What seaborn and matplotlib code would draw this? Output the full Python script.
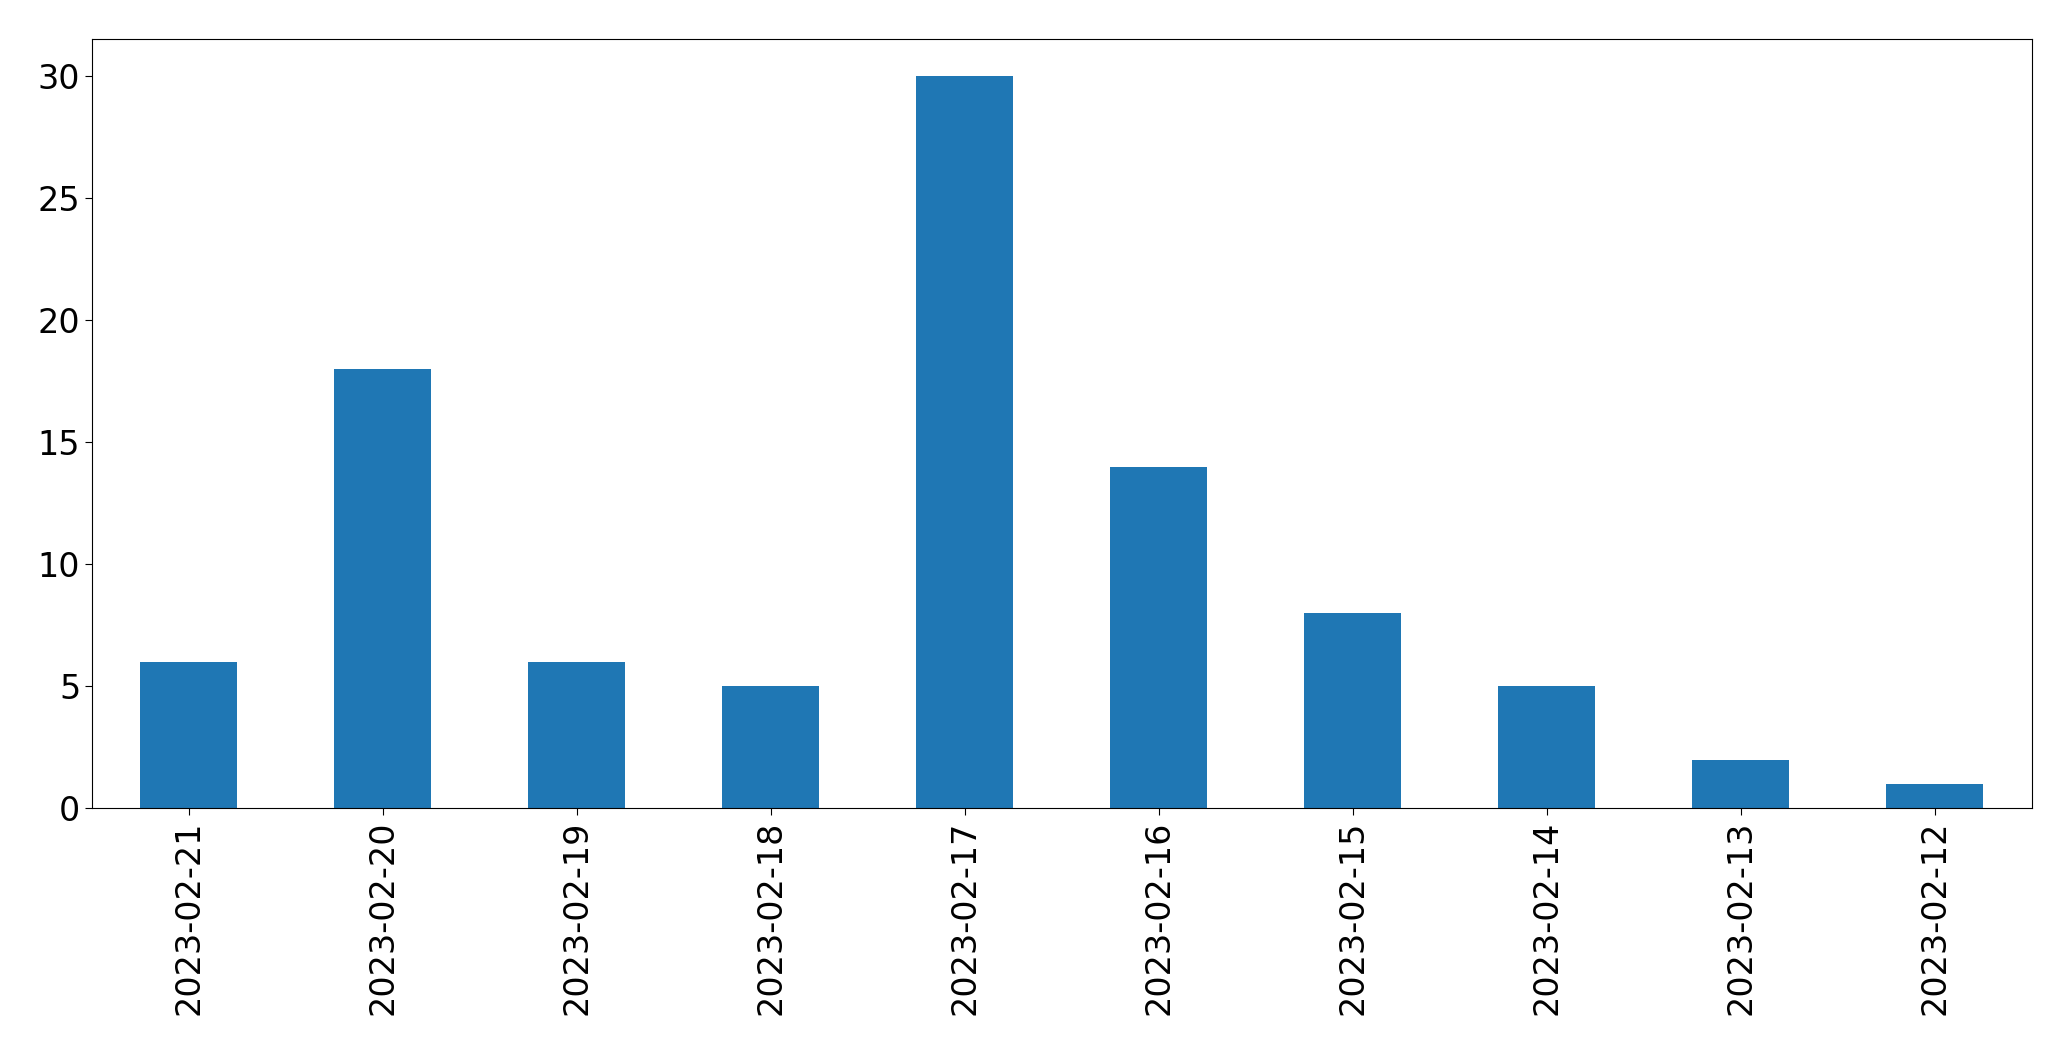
import pandas as pd
import matplotlib
matplotlib.use("Agg")
import matplotlib.pyplot as plt
import seaborn as sns

DATES = ["2023-02-21", "2023-02-20", "2023-02-19", "2023-02-18", "2023-02-17",
         "2023-02-16", "2023-02-15", "2023-02-14", "2023-02-13", "2023-02-12"]
COUNTS = [6, 18, 6, 5, 30, 14, 8, 5, 2, 1]

df = pd.DataFrame({"date": DATES, "count": COUNTS})

sns.set_style("ticks")
plt.rcParams["font.family"] = ["DejaVu Sans"]

fig, ax = plt.subplots(figsize=(20.71, 10.61), dpi=100)
sns.barplot(data=df, x="date", y="count", order=DATES, color="#1f77b4",
            saturation=1, width=0.5, linewidth=0, ax=ax)

ax.set_xlim(-0.5, len(DATES) - 0.5)
ax.set_ylim(0, max(COUNTS) * 1.05)
ax.set_xlabel("")
ax.set_ylabel("")
ax.tick_params(axis="both", labelsize=24, length=5, color="black",
               labelcolor="black")
ax.tick_params(axis="x", rotation=90)
for side in ["top", "right", "left", "bottom"]:
    ax.spines[side].set_visible(True)
    ax.spines[side].set_color("black")
    ax.spines[side].set_linewidth(0.8)

fig.subplots_adjust(left=0.0444, right=0.981, top=0.963, bottom=0.238)
fig.savefig("out.png", dpi=100)
